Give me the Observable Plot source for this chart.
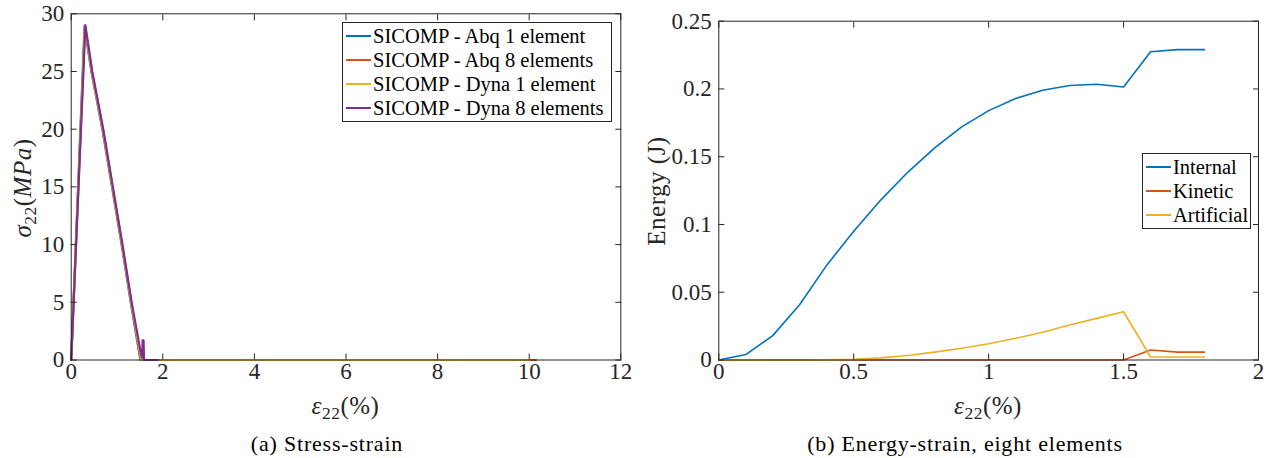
<!DOCTYPE html>
<html>
<head>
<meta charset="utf-8">
<script src="https://cdn.jsdelivr.net/npm/d3@7"></script>
<script src="https://cdn.jsdelivr.net/npm/@observablehq/plot@0.6"></script>
<style>
  html, body { margin: 0; padding: 0; background: #fff; }
  #page { position: relative; width: 1274px; height: 458px; overflow: hidden; font-family: "Liberation Serif", "Times New Roman", serif; color: #262626; }
  .panel { position: absolute; top: 0; }
  .lbl { position: absolute; white-space: nowrap; font-size: 25px; color: #262626; line-height: 1; letter-spacing: 0.5px; }
  .rot { transform: translate(-50%, -50%) rotate(-90deg); }
  .hc { transform: translate(-50%, -50%); }
  .cap { position: absolute; white-space: nowrap; font-size: 22px; letter-spacing: 0.8px; color: #000; transform: translate(-50%, -50%); }
  .legend { position: absolute; box-sizing: border-box; background: #fff; border: 1px solid #262626; font-size: 20.5px; color: #000; padding: 1px 2px 1px 3px; white-space: nowrap; }
  .legend .row { display: flex; align-items: center; height: 24px; white-space: nowrap; }
  .legend .sw { width: 25px; height: 0; border-top: 2px solid; margin-right: 2px; flex: none; }
  sub { font-size: 0.7em; vertical-align: -0.3em; }
</style>
</head>
<body>
<div id="page"></div>
<script>
// ---------- Data: (a) Stress-strain ----------
const seriesNamesA = ["SICOMP - Abq 1 element", "SICOMP - Abq 8 elements", "SICOMP - Dyna 1 element", "SICOMP - Dyna 8 elements"];
const colorsA = ["#0072BD", "#D95319", "#EDB120", "#7E2F8E"];

const strainAbq1 = [0, 0.29, 0.44, 0.68, 0.89, 1.10, 1.30, 1.51, 10.0];
const stressAbq1 = [0, 28.9, 25.0, 20.0, 15.0, 10.0, 5.0, 0, 0];

const strainAbq8 = [0, 0.30, 0.45, 0.69, 0.90, 1.11, 1.31, 1.52, 10.15];
const stressAbq8 = [0, 29.0, 25.0, 20.0, 15.0, 10.0, 5.0, 0, 0];

const strainDyna1 = [0, 0.30, 0.45, 0.69, 0.90, 1.11, 1.31, 1.53, 10.0];
const stressDyna1 = [0, 28.9, 25.0, 20.0, 15.0, 10.0, 5.0, 0, 0];

const strainDyna8 = [0, 0.31, 0.46, 0.70, 0.91, 1.12, 1.32, 1.53, 1.55, 1.56, 1.58, 1.59, 1.9];
const stressDyna8 = [0, 29.0, 25.0, 20.0, 15.0, 10.0, 5.0, 0.4, 0.2, 1.7, 1.7, 0, 0];

const xTicksA = [0, 2, 4, 6, 8, 10, 12];
const yTicksA = [0, 5, 10, 15, 20, 25, 30];

// ---------- Data: (b) Energy-strain, eight elements ----------
const seriesNamesB = ["Internal", "Kinetic", "Artificial"];
const colorsB = ["#0072BD", "#D95319", "#EDB120"];
const strainE = [0, 0.1, 0.2, 0.3, 0.4, 0.5, 0.6, 0.7, 0.8, 0.9, 1.0, 1.1, 1.2, 1.3, 1.4, 1.5, 1.6, 1.7, 1.8];
const energyInternal = [0, 0.004, 0.018, 0.041, 0.070, 0.095, 0.118, 0.1385, 0.1565, 0.172, 0.184, 0.193, 0.199, 0.2025, 0.2035, 0.2015, 0.2275, 0.229, 0.229];
const energyKinetic = [0, 0, 0, 0, 0, 0, 0, 0, 0, 0, 0, 0, 0, 0, 0, 0, 0.0074, 0.0058, 0.0058];
const energyArtificial = [0, 0, 0, 0, 0.0001, 0.0006, 0.0016, 0.0033, 0.0058, 0.0087, 0.012, 0.016, 0.0205, 0.0258, 0.0307, 0.0356, 0.0022, 0.0022, 0.0022];

const xTicksB = [0, 0.5, 1, 1.5, 2];
const yTicksB = [0, 0.05, 0.1, 0.15, 0.2, 0.25];

// ---------- Build tables ----------
const tableA = [];
[[strainAbq1, stressAbq1], [strainAbq8, stressAbq8], [strainDyna1, stressDyna1], [strainDyna8, stressDyna8]]
  .forEach(([xs, ys], i) => xs.forEach((x, j) => tableA.push({series: seriesNamesA[i], x, y: ys[j]})));

const tableB = [];
[energyInternal, energyKinetic, energyArtificial].forEach((ys, i) =>
  strainE.forEach((x, j) => tableB.push({series: seriesNamesB[i], x, y: ys[j]})));

const fmt = d => String(d);
const axisColor = "#262626";
const tickFont = '"Liberation Serif", "Times New Roman", serif';

function boxAxes(xTicks, yTicks) {
  return [
    Plot.axisX(xTicks, {anchor: "bottom", tickSize: -6, text: null, label: null, stroke: axisColor}),
    Plot.axisX(xTicks, {anchor: "top", tickSize: -6, text: null, label: null, stroke: axisColor}),
    Plot.axisY(yTicks, {anchor: "left", tickSize: -6, text: null, label: null, stroke: axisColor}),
    Plot.axisY(yTicks, {anchor: "right", tickSize: -6, text: null, label: null, stroke: axisColor}),
    Plot.axisX(xTicks, {anchor: "bottom", tickSize: 0, tickPadding: 3, label: null, tickFormat: fmt, fill: axisColor, fontSize: 23}),
    Plot.axisY(yTicks, {anchor: "left", tickSize: 0, tickPadding: 7, label: null, tickFormat: fmt, fill: axisColor, fontSize: 23}),
    Plot.frame({stroke: axisColor, strokeWidth: 1})
  ];
}

const plotA = Plot.plot({
  width: 640,
  height: 400,
  marginLeft: 70.7,
  marginRight: 19.7,
  marginTop: 13.3,
  marginBottom: 40.5,
  style: {fontFamily: tickFont, fontSize: "23px", background: "transparent", overflow: "visible"},
  x: {domain: [0, 12], axis: null},
  y: {domain: [0, 30], axis: null},
  color: {domain: seriesNamesA, range: colorsA},
  marks: [
    Plot.line(tableA, {x: "x", y: "y", z: "series", stroke: "series", strokeWidth: 2.2}),
    ...boxAxes(xTicksA, yTicksA)
  ]
});

const plotB = Plot.plot({
  width: 634,
  height: 400,
  marginLeft: 78.3,
  marginRight: 16,
  marginTop: 20.7,
  marginBottom: 40.5,
  style: {fontFamily: tickFont, fontSize: "23px", background: "transparent", overflow: "visible"},
  x: {domain: [0, 2], axis: null},
  y: {domain: [0, 0.25], axis: null},
  color: {domain: seriesNamesB, range: colorsB},
  marks: [
    Plot.line(tableB, {x: "x", y: "y", z: "series", stroke: "series", strokeWidth: 1.6}),
    ...boxAxes(xTicksB, yTicksB)
  ]
});

const page = document.getElementById("page");
const pa = document.createElement("div"); pa.className = "panel"; pa.style.left = "0px"; pa.appendChild(plotA); page.appendChild(pa);
const pb = document.createElement("div"); pb.className = "panel"; pb.style.left = "640px"; pb.appendChild(plotB); page.appendChild(pb);

function addLabel(html, cls, left, top) {
  const d = document.createElement("div");
  d.className = cls;
  d.innerHTML = html;
  d.style.left = left + "px";
  d.style.top = top + "px";
  page.appendChild(d);
  return d;
}
addLabel('<i>σ</i><sub>22</sub>(<i>MPa</i>)', "lbl rot", 25, 188);
addLabel('Energy (J)', "lbl rot", 656, 191);
addLabel('<i>ε</i><sub>22</sub>(%)', "lbl hc", 345.5, 408);
addLabel('<i>ε</i><sub>22</sub>(%)', "lbl hc", 988, 408);
addLabel('(a) Stress-strain', "cap", 327, 444);
addLabel('(b) Energy-strain, eight elements', "cap", 965, 444);

function addLegend(names, colors, left, top, width) {
  const lg = document.createElement("div");
  lg.className = "legend";
  lg.style.left = left + "px";
  lg.style.top = top + "px";
  lg.style.width = width + "px";
  names.forEach((n, i) => {
    const r = document.createElement("div");
    r.className = "row";
    const s = document.createElement("span");
    s.className = "sw";
    s.style.borderTopColor = colors[i];
    const t = document.createElement("span");
    t.textContent = n;
    r.appendChild(s); r.appendChild(t);
    lg.appendChild(r);
  });
  page.appendChild(lg);
}
addLegend(seriesNamesA, colorsA, 342, 22, 270);
addLegend(seriesNamesB, colorsB, 1142, 153, 109);
</script>
</body>
</html>
